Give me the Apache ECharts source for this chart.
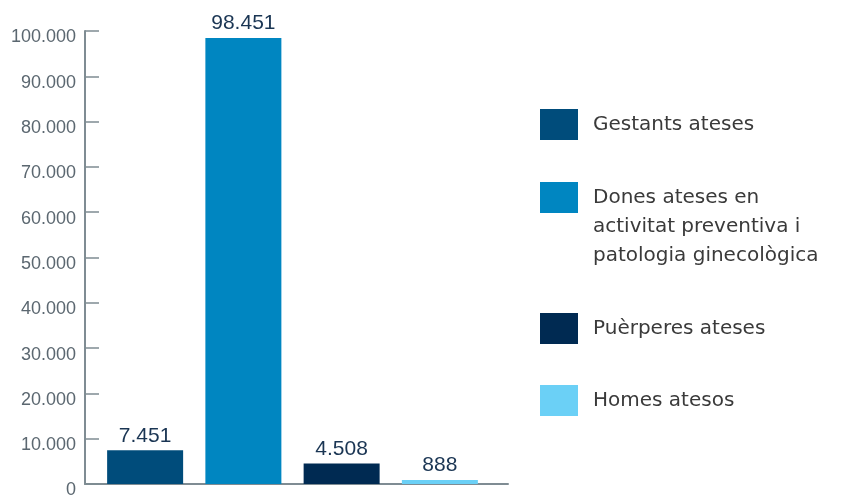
<!DOCTYPE html>
<html>
<head>
<meta charset="utf-8">
<script src="https://cdn.jsdelivr.net/npm/echarts@6/dist/echarts.min.js"></script>
<style>
  html, body { margin: 0; padding: 0; background: #fff; }
  #chart { width: 842px; height: 495px; }
</style>
</head>
<body>
<div id="chart"></div>
<script>
const categories = ['Gestants ateses', 'Dones ateses en\nactivitat preventiva i\npatologia ginecològica', 'Puèrperes ateses', 'Homes atesos']
const values = [7451, 98451, 4508, 888]
const colors = ['#004c7b', '#0086c1', '#002a52', '#6bd0f6']
const yTicks = [0, 10000, 20000, 30000, 40000, 50000, 60000, 70000, 80000, 90000, 100000]

// format with dot as thousands separator
function fmt(v) {
  return String(v).replace(/\B(?=(\d{3})+(?!\d))/g, '.')
}

const chart = echarts.init(document.getElementById('chart'))

// one series per category so each gets its own legend entry
const series = categories.map((name, i) => ({
  name: name,
  type: 'bar',
  stack: 'all',
  xAxisIndex: 0,
  yAxisIndex: 0,
  barWidth: 76,
  itemStyle: { color: colors[i] },
  data: categories.map((c, j) => (j === i ? values[i] : '-')),
  label: {
    show: true,
    position: 'top',
    distance: 4,
    color: '#1a3553',
    fontFamily: 'Liberation Sans, Arial, sans-serif',
    fontSize: 21,
    formatter: (p) => fmt(p.value),
  },
}))

// icon sits on the first line of the multi-line entry: pad with empty lines above
const legendTops = [109, 125, 313, 385]
const legends = categories.map((name, i) => ({
  data: [name],
  left: 540,
  top: legendTops[i],
  padding: 0,
  itemWidth: 38,
  itemHeight: 31,
  itemGap: 0,
  icon: 'rect',
  selectedMode: false,
  formatter: (n) => (n.indexOf('\n') >= 0 ? '\n\n' + n : n),
  textStyle: {
    color: '#3a3a3a',
    fontFamily: 'DejaVu Sans',
    fontSize: 20,
    lineHeight: 29,
    padding: [0, 0, 0, 10],
  },
}))

chart.setOption({
  animation: false,
  grid: [
    { left: 96, right: 353, top: 31, bottom: 11, outerBoundsMode: 'none' },
    { left: 85, right: 334, top: 31, bottom: 11, outerBoundsMode: 'none' },
  ],
  legend: legends,
  xAxis: [
    { type: 'category', gridIndex: 0, data: categories, show: false },
    {
      type: 'category',
      gridIndex: 1,
      data: [''],
      axisLine: { lineStyle: { color: '#7f8c93', width: 2 } },
      axisTick: { show: false },
      axisLabel: { show: false },
    },
  ],
  yAxis: [
    { type: 'value', gridIndex: 0, min: 0, max: 100000, show: false },
    {
      type: 'value',
      gridIndex: 1,
      min: yTicks[0],
      max: yTicks[yTicks.length - 1],
      interval: 10000,
      axisLine: { show: true, lineStyle: { color: '#7f8c93', width: 2 } },
      axisTick: { show: true, inside: true, length: 14, lineStyle: { color: '#7f8c93', width: 1.5 } },
      splitLine: { show: false },
      axisLabel: {
        margin: 9,
        formatter: (v) => '{t|' + fmt(v) + '}',
        rich: {
          t: {
            color: '#5b6770',
            fontFamily: 'Liberation Sans, Arial, sans-serif',
            fontSize: 18,
            padding: [13, 0, 0, 0],
          },
        },
      },
    },
  ],
  series: series,
})
</script>
</body>
</html>
